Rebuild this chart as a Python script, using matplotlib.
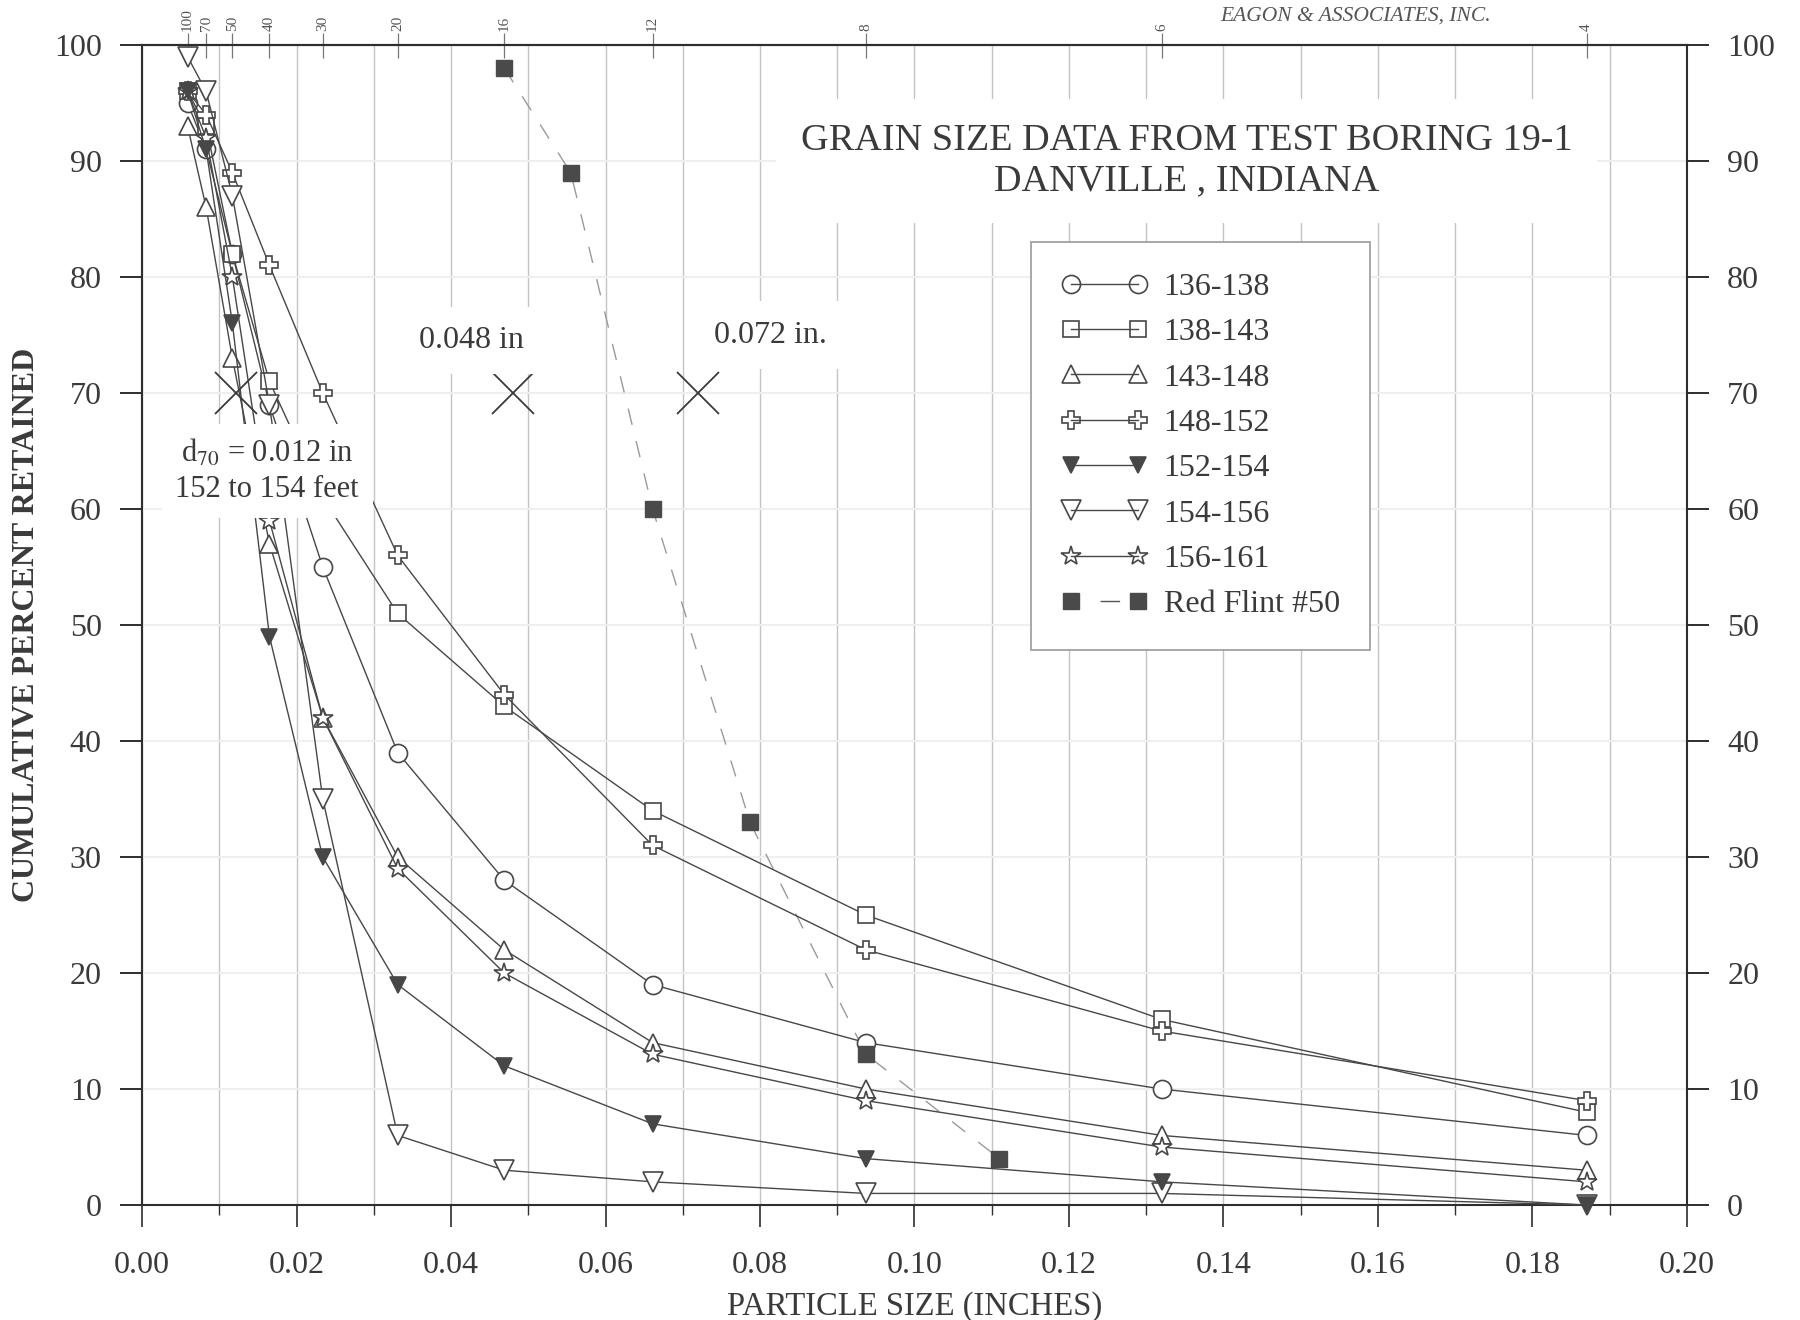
import matplotlib
matplotlib.use("Agg")
import matplotlib.pyplot as plt
from matplotlib.lines import Line2D
from matplotlib.ticker import MultipleLocator, FormatStrFormatter

plt.rcParams['font.family'] = ['Liberation Serif', 'DejaVu Serif']
plt.rcParams['mathtext.fontset'] = 'stix'

# sieve openings (inches) and sieve numbers for the top axis
sieve_in = [0.0059, 0.0083, 0.0117, 0.0165, 0.0234, 0.0331, 0.0469, 0.0661, 0.0937, 0.132, 0.187]
sieve_no = ['100', '70', '50', '40', '30', '20', '16', '12', '8', '6', '4']

# cumulative percent retained for each sample interval (feet)
s136_138 = [95, 91, 82, 69, 55, 39, 28, 19, 14, 10, 6]
s138_143 = [96, 93, 82, 71, 61, 51, 43, 34, 25, 16, 8]
s143_148 = [93, 86, 73, 57, 42, 30, 22, 14, 10, 6, 3]
s148_152 = [96, 94, 89, 81, 70, 56, 44, 31, 22, 15, 9]
s152_154 = [96, 91, 76, 49, 30, 19, 12, 7, 4, 2, 0]
s154_156 = [99, 96, 87, 69, 35, 6, 3, 2, 1, 1, 0]
s156_161 = [96, 92, 80, 59, 42, 29, 20, 13, 9, 5, 2]

# Red Flint #50 filter sand
rf_in = [0.0469, 0.0555, 0.0661, 0.0787, 0.0937, 0.111]
rf_pct = [98, 89, 60, 33, 13, 4]

# d70 marks
d70_in = [0.0122, 0.048, 0.072]
d70_pct = [70, 70, 70]

ink = '#474747'
dark = '#2e2e2e'
txt = '#3a3a3a'

fig = plt.figure(figsize=(18, 13.2), dpi=100)
ax = fig.add_axes([0.0789, 0.0871, 0.9372 - 0.0789, 0.9659 - 0.0871])

series = [
    ('136-138', s136_138, 'o', 'white', 13),
    ('138-143', s138_143, 's', 'white', 12),
    ('143-148', s143_148, '^', 'white', 13),
    ('148-152', s148_152, 'P', 'white', 13),
    ('152-154', s152_154, 'v', ink, 11),
    ('154-156', s154_156, 'v', 'white', 14),
    ('156-161', s156_161, '*', 'white', 15),
]

handles = []
for name, vals, mk, fc, ms in series:
    z = 4.5 if fc == ink else 4
    ax.plot(sieve_in, vals, color=ink, lw=1.0, marker=mk, ms=ms, mfc=fc,
            mec=ink, mew=1.2, zorder=z, clip_on=False)
    handles.append(Line2D([], [], color=ink, lw=1.0, marker=mk, ms=ms,
                          mfc=ink if fc == ink else 'none', mec=ink, mew=1.2, label=name))

ax.plot(rf_in, rf_pct, color='#9a9a9a', lw=1.0, ls=(0, (12, 12)), zorder=3)
ax.plot(rf_in, rf_pct, ls='none', marker='s', ms=12, mfc='#4a4a4a', mec='#4a4a4a', zorder=4)
handles.append(Line2D([], [], color='#555', lw=1.0, ls=(93, (14, 100)), marker='s', ms=12,
                      mfc='#4a4a4a', mec='#4a4a4a', label='Red Flint #50'))

ax.plot(d70_in, d70_pct, ls='none', marker='x', ms=30, mew=1.3, color='#3a3a3a', zorder=5)

# axes, ticks, grid
ax.set_xlim(0, 0.20)
ax.set_ylim(0, 100)
ax.xaxis.set_major_locator(MultipleLocator(0.02))
ax.xaxis.set_minor_locator(MultipleLocator(0.01))
ax.xaxis.set_major_formatter(FormatStrFormatter('%.2f'))
ax.set_yticks(range(0, 101, 10))

ax.grid(True, axis='x', which='both', color='#c4c4c4', lw=1.0, zorder=0)
ax.grid(True, axis='y', which='major', color='#efefef', lw=1.5, zorder=0)
for yv in [40, 70, 90]:
    ax.axhline(yv, color=dark, lw=1.4, zorder=1)

for sp in ax.spines.values():
    sp.set_color(dark)
    sp.set_linewidth(1.5)

ax.tick_params(axis='y', which='major', direction='out', length=16, width=1.4, color=dark,
               labelsize=23, labelcolor=txt, pad=13, left=True, right=True,
               labelleft=True, labelright=True)
ax.tick_params(axis='x', which='major', direction='out', length=16, width=1.2, color=dark,
               labelsize=23, labelcolor=txt, pad=17)
ax.tick_params(axis='x', which='minor', direction='out', length=7, width=1.0, color=dark)

secax = ax.secondary_xaxis('top')
secax.set_xticks(sieve_in, labels=sieve_no)
secax.tick_params(direction='inout', length=18, width=0.9, color='#777', labelsize=11,
                  labelcolor='#555', pad=1, labelrotation=90)
secax.spines['top'].set_color(dark)
secax.spines['top'].set_linewidth(1.5)

ax.set_xlabel('PARTICLE SIZE (INCHES)', fontsize=23.5, color=txt, labelpad=8)
ax.set_ylabel('CUMULATIVE PERCENT RETAINED', fontsize=23, fontweight='bold',
              color=txt, labelpad=9)

# annotations with white backgrounds
box = dict(facecolor='white', edgecolor='none', boxstyle='square,pad=0.6')
ax.text(0.1352, 90.0, 'GRAIN SIZE DATA FROM TEST BORING 19-1\nDANVILLE , INDIANA',
        fontsize=27.5, color=txt, ha='center', va='center', linespacing=1.2,
        bbox=dict(facecolor='white', edgecolor='none', boxstyle='square,pad=0.65'), zorder=6)
ax.text(0.0426, 74.5, '0.048 in', fontsize=23, color=txt, ha='center', va='center',
        bbox=box, zorder=6)
ax.text(0.0813, 75.0, '0.072 in.', fontsize=23, color=txt, ha='center', va='center',
        bbox=box, zorder=6)
ax.text(0.0162, 63.3, 'd$_{70}$ = 0.012 in\n152 to 154 feet', fontsize=22, color=txt,
        ha='center', va='center', linespacing=1.3,
        bbox=dict(facecolor='white', edgecolor='none', boxstyle='square,pad=0.45'), zorder=6)

leg = ax.legend(handles=handles, loc='upper left', bbox_to_anchor=(0.5755, 0.83),
                borderaxespad=0, fontsize=23, numpoints=2, handlelength=2.7,
                handletextpad=0.5, labelspacing=0.5, borderpad=0.95, fancybox=False,
                edgecolor='#9a9a9a', framealpha=1.0, labelcolor=txt)
leg.get_frame().set_linewidth(1.2)
leg.set_zorder(7)

fig.text(0.7533, 0.988, 'EAGON & ASSOCIATES, INC.', fontsize=15.5, style='italic',
         color='#555', ha='center', va='center')

fig.savefig('out.png', dpi=100, facecolor='white')
